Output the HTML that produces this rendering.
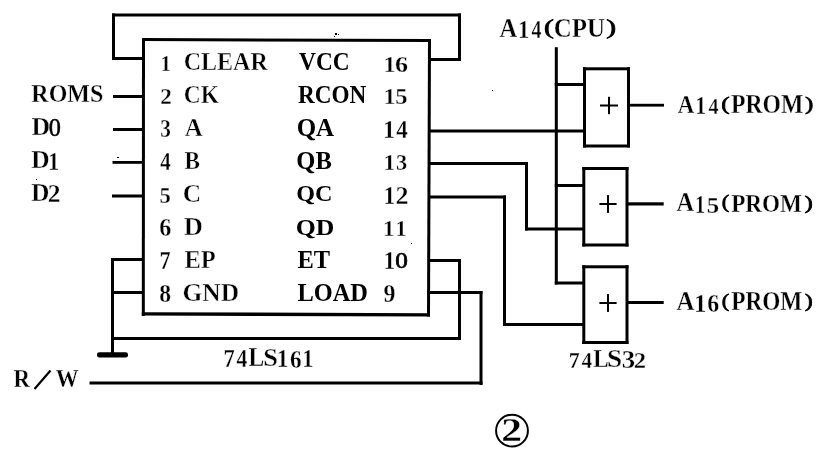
<!DOCTYPE html>
<html><head><meta charset="utf-8"><style>
html,body{margin:0;padding:0;background:#fff;}
svg{display:block;filter:grayscale(1);}
text{font-family:"Liberation Serif",serif;font-kerning:none;fill:#000;}
</style></head><body>
<svg width="828" height="455" viewBox="0 0 828 455">
<rect width="828" height="455" fill="#fff"/>
<g fill="#000">
<polygon points="142,38 431,39 431,42 142,41"/>
<polygon points="141.8,312.2 430,313.2 430,316.5 141.8,315.6"/>
<polygon points="142,38 145,38 144.8,316 141.8,316"/>
<polygon points="428,39 431,39 430,316.5 427,316.5"/>
<rect x="112" y="13.5" width="3.00" height="46.50"/>
<rect x="112" y="13.5" width="349.00" height="3.00"/>
<rect x="458" y="13.5" width="3.00" height="47.50"/>
<rect x="112" y="57" width="31.00" height="3.00"/>
<rect x="429" y="58" width="32.00" height="3.00"/>
<rect x="113" y="95" width="29.00" height="3.00"/>
<rect x="113" y="128" width="29.00" height="3.00"/>
<rect x="112.5" y="161" width="29.50" height="2.80"/>
<rect x="112" y="194.5" width="30.00" height="3.00"/>
<rect x="111" y="258" width="31.00" height="3.00"/>
<rect x="111" y="291" width="31.00" height="3.00"/>
<rect x="111" y="258" width="3.00" height="97.00"/>
<rect x="111" y="337" width="350.00" height="3.00"/>
<rect x="97" y="352.2" width="31" height="5.3" rx="2.3"/>
<rect x="429" y="259" width="32.00" height="3.00"/>
<rect x="458" y="259" width="3.00" height="81.00"/>
<rect x="429" y="291" width="53.50" height="3.00"/>
<rect x="479.5" y="291" width="3.00" height="94.00"/>
<rect x="89.5" y="381.5" width="393.00" height="3.00"/>
<rect x="429" y="129.5" width="155.00" height="3.00"/>
<rect x="429" y="162" width="99.00" height="3.00"/>
<rect x="525" y="162" width="3.00" height="68.50"/>
<rect x="525" y="227.5" width="59.00" height="3.00"/>
<rect x="429" y="195.5" width="77.00" height="3.00"/>
<rect x="503" y="195.5" width="3.00" height="130.50"/>
<rect x="503" y="323" width="81.00" height="3.00"/>
<rect x="554.8" y="47.2" width="3.00" height="237.30"/>
<rect x="554.8" y="83" width="29.20" height="3.00"/>
<rect x="554.8" y="184" width="29.20" height="3.00"/>
<rect x="554.8" y="281.5" width="29.20" height="3.00"/>
<rect x="583" y="67.3" width="47.00" height="3.00"/>
<rect x="583" y="144.5" width="47.00" height="3.00"/>
<rect x="583" y="67.3" width="3.00" height="80.20"/>
<rect x="627" y="67.3" width="3.00" height="80.20"/>
<rect x="582.3" y="167" width="46.20" height="3.00"/>
<rect x="582.3" y="243.5" width="46.20" height="3.00"/>
<rect x="582.3" y="167" width="3.00" height="79.50"/>
<rect x="625.5" y="167" width="3.00" height="79.50"/>
<rect x="582.3" y="265.3" width="46.20" height="3.00"/>
<rect x="582.3" y="341" width="46.20" height="3.00"/>
<rect x="582.3" y="265.3" width="3.00" height="78.70"/>
<rect x="625.5" y="265.3" width="3.00" height="78.70"/>
<rect x="629" y="103.8" width="35.00" height="2.80"/>
<rect x="628" y="202.3" width="35.70" height="3.20"/>
<rect x="628" y="301" width="35.70" height="3.00"/>
<rect x="600" y="104.5" width="18.00" height="2.00"/>
<rect x="608.0" y="96.8" width="2.00" height="17.40"/>
<rect x="599.4" y="203.0" width="17.20" height="2.00"/>
<rect x="607.0" y="195.1" width="2.00" height="17.80"/>
<rect x="599.4" y="302.0" width="17.20" height="2.00"/>
<rect x="607.0" y="294.1" width="2.00" height="17.80"/>
<rect x="492" y="90" width="1.00" height="1.00"/>
<rect x="117" y="157" width="2.00" height="1.00"/>
<rect x="36" y="179" width="1.00" height="1.00"/>
<rect x="411" y="243" width="1.00" height="1.00"/>
<rect x="335" y="33" width="2.00" height="2.00"/>
<rect x="338" y="34" width="1.00" height="1.00"/>
<rect x="334" y="36" width="1.00" height="1.00"/>
</g>
<g>
<text transform="translate(31.34 101.70) scale(0.9420 1)" font-size="25.45" font-weight="bold" stroke="#fff" stroke-width="0.3" stroke-linejoin="round">ROMS</text>
<text transform="translate(31.40 135.00) scale(1.0320 1)" font-size="24.97" font-weight="bold" stroke="#fff" stroke-width="0.3" stroke-linejoin="round">D</text>
<text transform="translate(48.77 135.76) scale(1.0061 1)" font-size="24.16" font-weight="normal" stroke="#000" stroke-width="0.5">0</text>
<text transform="translate(31.30 167.80) scale(1.0388 1)" font-size="24.52" font-weight="bold" stroke="#fff" stroke-width="0.3" stroke-linejoin="round">D</text>
<text transform="translate(48.04 169.95) scale(0.9075 1)" font-size="24.84" font-weight="bold" stroke="#fff" stroke-width="0.3" stroke-linejoin="round">1</text>
<text transform="translate(31.31 200.80) scale(0.9663 1)" font-size="26.04" font-weight="bold" stroke="#fff" stroke-width="0.3" stroke-linejoin="round">D</text>
<text transform="translate(47.78 201.85) scale(1.0374 1)" font-size="24.62" font-weight="bold" stroke="#fff" stroke-width="0.3" stroke-linejoin="round">2</text>
<text transform="translate(13.46 387.05) scale(0.8795 1)" font-size="25.96" font-weight="bold" stroke="#fff" stroke-width="0.3" stroke-linejoin="round">R</text>
<text transform="translate(55.63 386.68) scale(0.9404 1)" font-size="24.33" font-weight="bold" stroke="#fff" stroke-width="0.3" stroke-linejoin="round">W</text>
<text transform="translate(160.58 70.55) scale(0.9024 1)" font-size="23.18" font-weight="bold" stroke="#fff" stroke-width="0.3" stroke-linejoin="round">1</text>
<text transform="translate(160.28 103.75) scale(0.9945 1)" font-size="23.26" font-weight="bold" stroke="#fff" stroke-width="0.3" stroke-linejoin="round">2</text>
<text transform="translate(160.15 136.91) scale(0.8706 1)" font-size="24.41" font-weight="bold" stroke="#fff" stroke-width="0.3" stroke-linejoin="round">3</text>
<text transform="translate(160.36 170.05) scale(0.8565 1)" font-size="24.46" font-weight="bold" stroke="#fff" stroke-width="0.3" stroke-linejoin="round">4</text>
<text transform="translate(159.44 202.72) scale(0.9660 1)" font-size="23.47" font-weight="bold" stroke="#fff" stroke-width="0.3" stroke-linejoin="round">5</text>
<text transform="translate(159.13 235.61) scale(0.9915 1)" font-size="24.26" font-weight="bold" stroke="#fff" stroke-width="0.3" stroke-linejoin="round">6</text>
<text transform="translate(159.38 268.95) scale(0.8983 1)" font-size="24.74" font-weight="bold" stroke="#fff" stroke-width="0.3" stroke-linejoin="round">7</text>
<text transform="translate(159.16 301.80) scale(0.9429 1)" font-size="25.19" font-weight="bold" stroke="#fff" stroke-width="0.3" stroke-linejoin="round">8</text>
<text transform="translate(183.73 70.35) scale(0.9491 1)" font-size="25.30" font-weight="bold" stroke="#fff" stroke-width="0.4" stroke-linejoin="round">CLEAR</text>
<text transform="translate(183.76 102.85) scale(0.9255 1)" font-size="25.30" font-weight="bold" stroke="#fff" stroke-width="0.4" stroke-linejoin="round">CK</text>
<text transform="translate(184.66 136.10) scale(0.9526 1)" font-size="26.05" font-weight="bold" stroke="#fff" stroke-width="0.4" stroke-linejoin="round">A</text>
<text transform="translate(184.52 168.82) scale(0.8949 1)" font-size="25.85" font-weight="bold" stroke="#fff" stroke-width="0.4" stroke-linejoin="round">B</text>
<text transform="translate(182.86 202.15) scale(0.9828 1)" font-size="25.90" font-weight="bold" stroke="#fff" stroke-width="0.4" stroke-linejoin="round">C</text>
<text transform="translate(183.63 234.85) scale(1.0251 1)" font-size="25.89" font-weight="bold" stroke="#fff" stroke-width="0.4" stroke-linejoin="round">D</text>
<text transform="translate(184.48 267.70) scale(0.9608 1)" font-size="25.50" font-weight="bold" stroke="#fff" stroke-width="0.4" stroke-linejoin="round">EP</text>
<text transform="translate(182.56 300.75) scale(0.9833 1)" font-size="25.90" font-weight="bold" stroke="#fff" stroke-width="0.4" stroke-linejoin="round">GND</text>
<text transform="translate(299.04 69.71) scale(0.8995 1)" font-size="25.99" font-weight="bold">VCC</text>
<text transform="translate(298.10 102.66) scale(0.9504 1)" font-size="24.41" font-weight="bold">RCON</text>
<text transform="translate(296.68 136.20) scale(0.9709 1)" font-size="25.75" font-weight="bold">QA</text>
<text transform="translate(296.30 168.93) scale(1.0033 1)" font-size="24.48" font-weight="bold">QB</text>
<text transform="translate(296.32 200.77) scale(1.0203 1)" font-size="23.67" font-weight="bold">QC</text>
<text transform="translate(295.84 234.95) scale(1.0768 1)" font-size="23.91" font-weight="bold">QD</text>
<text transform="translate(297.48 267.90) scale(0.9521 1)" font-size="25.66" font-weight="bold">ET</text>
<text transform="translate(297.48 300.85) scale(0.9423 1)" font-size="25.90" font-weight="bold">LOAD</text>
<text transform="translate(383.61 71.85) scale(1.0165 1)" font-size="23.78" font-weight="bold" stroke="#fff" stroke-width="0.3" stroke-linejoin="round">1</text>
<text transform="translate(395.06 71.62) scale(1.1176 1)" font-size="23.37" font-weight="bold" stroke="#fff" stroke-width="0.3" stroke-linejoin="round">6</text>
<text transform="translate(383.61 104.35) scale(1.0639 1)" font-size="22.72" font-weight="bold" stroke="#fff" stroke-width="0.3" stroke-linejoin="round">1</text>
<text transform="translate(395.37 104.13) scale(1.0884 1)" font-size="22.57" font-weight="bold" stroke="#fff" stroke-width="0.3" stroke-linejoin="round">5</text>
<text transform="translate(383.01 137.85) scale(0.9912 1)" font-size="24.39" font-weight="bold" stroke="#fff" stroke-width="0.3" stroke-linejoin="round">1</text>
<text transform="translate(396.23 137.85) scale(0.9439 1)" font-size="24.46" font-weight="bold" stroke="#fff" stroke-width="0.3" stroke-linejoin="round">4</text>
<text transform="translate(383.38 170.35) scale(1.0280 1)" font-size="22.72" font-weight="bold" stroke="#fff" stroke-width="0.3" stroke-linejoin="round">1</text>
<text transform="translate(396.01 170.13) scale(1.0042 1)" font-size="22.33" font-weight="bold" stroke="#fff" stroke-width="0.3" stroke-linejoin="round">3</text>
<text transform="translate(383.38 203.85) scale(0.9461 1)" font-size="24.69" font-weight="bold" stroke="#fff" stroke-width="0.3" stroke-linejoin="round">1</text>
<text transform="translate(395.46 203.85) scale(1.0570 1)" font-size="24.62" font-weight="bold" stroke="#fff" stroke-width="0.3" stroke-linejoin="round">2</text>
<text transform="translate(383.10 236.35) scale(1.0161 1)" font-size="22.72" font-weight="bold" stroke="#fff" stroke-width="0.3" stroke-linejoin="round">1</text>
<text transform="translate(395.47 236.35) scale(0.9802 1)" font-size="22.72" font-weight="bold" stroke="#fff" stroke-width="0.3" stroke-linejoin="round">1</text>
<text transform="translate(383.38 269.05) scale(0.9638 1)" font-size="24.24" font-weight="bold" stroke="#fff" stroke-width="0.3" stroke-linejoin="round">1</text>
<text transform="translate(395.19 268.33) scale(1.1357 1)" font-size="22.23" font-weight="normal" stroke="#000" stroke-width="0.7" stroke-linejoin="round">0</text>
<text transform="translate(383.40 302.01) scale(0.9820 1)" font-size="24.26" font-weight="bold" stroke="#fff" stroke-width="0.3" stroke-linejoin="round">9</text>
<text transform="translate(223.47 367.15) scale(0.9024 1)" font-size="24.89" font-weight="bold" stroke="#fff" stroke-width="0.3" stroke-linejoin="round">7</text>
<text transform="translate(236.55 366.95) scale(0.8882 1)" font-size="24.31" font-weight="bold" stroke="#fff" stroke-width="0.3" stroke-linejoin="round">4</text>
<text transform="translate(248.55 366.05) scale(0.8903 1)" font-size="26.42" font-weight="bold" stroke="#fff" stroke-width="0.3" stroke-linejoin="round">L</text>
<text transform="translate(263.35 365.80) scale(1.0206 1)" font-size="25.75" font-weight="bold" stroke="#fff" stroke-width="0.3" stroke-linejoin="round">S</text>
<text transform="translate(276.78 367.15) scale(0.9403 1)" font-size="24.84" font-weight="bold" stroke="#fff" stroke-width="0.3" stroke-linejoin="round">1</text>
<text transform="translate(290.06 367.80) scale(0.8986 1)" font-size="25.75" font-weight="bold" stroke="#fff" stroke-width="0.3" stroke-linejoin="round">6</text>
<text transform="translate(302.14 367.15) scale(0.9075 1)" font-size="24.84" font-weight="bold" stroke="#fff" stroke-width="0.3" stroke-linejoin="round">1</text>
<text transform="translate(568.69 367.95) scale(0.9111 1)" font-size="24.13" font-weight="bold" stroke="#fff" stroke-width="0.3" stroke-linejoin="round">7</text>
<text transform="translate(581.56 367.95) scale(0.8817 1)" font-size="24.00" font-weight="bold" stroke="#fff" stroke-width="0.3" stroke-linejoin="round">4</text>
<text transform="translate(593.36 366.95) scale(0.8870 1)" font-size="25.96" font-weight="bold" stroke="#fff" stroke-width="0.3" stroke-linejoin="round">L</text>
<text transform="translate(607.01 366.70) scale(1.0729 1)" font-size="25.30" font-weight="bold" stroke="#fff" stroke-width="0.3" stroke-linejoin="round">S</text>
<text transform="translate(621.64 368.41) scale(1.0935 1)" font-size="24.56" font-weight="bold" stroke="#fff" stroke-width="0.3" stroke-linejoin="round">3</text>
<text transform="translate(633.82 367.95) scale(1.0299 1)" font-size="23.86" font-weight="bold" stroke="#fff" stroke-width="0.3" stroke-linejoin="round">2</text>
<text transform="translate(499.61 36.95) scale(0.8999 1)" font-size="27.27" font-weight="bold" stroke="#fff" stroke-width="0.3" stroke-linejoin="round">A</text>
<text transform="translate(517.94 38.05) scale(0.8603 1)" font-size="26.21" font-weight="bold" stroke="#fff" stroke-width="0.3" stroke-linejoin="round">1</text>
<text transform="translate(531.48 38.05) scale(0.8078 1)" font-size="24.61" font-weight="bold" stroke="#fff" stroke-width="0.3" stroke-linejoin="round">4</text>
<text transform="translate(543.95 34.00) scale(1.4824 1)" font-size="19.96" font-weight="normal" stroke="#000" stroke-width="0.7" stroke-linejoin="round">(</text>
<text transform="translate(553.74 36.89) scale(0.9236 1)" font-size="26.94" font-weight="bold" stroke="#fff" stroke-width="0.3" stroke-linejoin="round">CPU</text>
<text transform="translate(606.20 34.25) scale(1.4662 1)" font-size="20.18" font-weight="normal" stroke="#000" stroke-width="0.7" stroke-linejoin="round">)</text>
<text transform="translate(677.63 112.95) scale(0.8764 1)" font-size="26.05" font-weight="bold" stroke="#fff" stroke-width="0.3" stroke-linejoin="round">A</text>
<text transform="translate(695.21 113.85) scale(0.8966 1)" font-size="24.24" font-weight="bold" stroke="#fff" stroke-width="0.3" stroke-linejoin="round">1</text>
<text transform="translate(708.58 113.65) scale(0.8371 1)" font-size="24.00" font-weight="bold" stroke="#fff" stroke-width="0.3" stroke-linejoin="round">4</text>
<text transform="translate(721.14 110.49) scale(1.3265 1)" font-size="19.08" font-weight="normal" stroke="#000" stroke-width="0.7" stroke-linejoin="round">(</text>
<text transform="translate(730.95 112.69) scale(0.8736 1)" font-size="27.09" font-weight="bold" stroke="#fff" stroke-width="0.3" stroke-linejoin="round">PROM</text>
<text transform="translate(804.95 110.46) scale(1.3291 1)" font-size="18.75" font-weight="normal" stroke="#000" stroke-width="0.7" stroke-linejoin="round">)</text>
<text transform="translate(676.51 211.35) scale(0.9202 1)" font-size="26.51" font-weight="bold" stroke="#fff" stroke-width="0.3" stroke-linejoin="round">A</text>
<text transform="translate(695.12 212.75) scale(0.8005 1)" font-size="25.45" font-weight="bold" stroke="#fff" stroke-width="0.3" stroke-linejoin="round">1</text>
<text transform="translate(706.76 212.52) scale(1.0366 1)" font-size="23.93" font-weight="bold" stroke="#fff" stroke-width="0.3" stroke-linejoin="round">5</text>
<text transform="translate(721.66 208.26) scale(1.2045 1)" font-size="18.75" font-weight="normal" stroke="#000" stroke-width="0.7" stroke-linejoin="round">(</text>
<text transform="translate(731.15 211.60) scale(0.8997 1)" font-size="25.75" font-weight="bold" stroke="#fff" stroke-width="0.3" stroke-linejoin="round">PROM</text>
<text transform="translate(804.45 209.31) scale(1.3136 1)" font-size="18.97" font-weight="normal" stroke="#000" stroke-width="0.7" stroke-linejoin="round">)</text>
<text transform="translate(676.51 309.95) scale(0.9363 1)" font-size="26.51" font-weight="bold" stroke="#fff" stroke-width="0.3" stroke-linejoin="round">A</text>
<text transform="translate(693.95 311.85) scale(0.9591 1)" font-size="26.05" font-weight="bold" stroke="#fff" stroke-width="0.3" stroke-linejoin="round">1</text>
<text transform="translate(707.24 311.60) scale(0.9416 1)" font-size="25.30" font-weight="bold" stroke="#fff" stroke-width="0.3" stroke-linejoin="round">6</text>
<text transform="translate(721.66 307.36) scale(1.2045 1)" font-size="18.75" font-weight="normal" stroke="#000" stroke-width="0.7" stroke-linejoin="round">(</text>
<text transform="translate(731.15 309.99) scale(0.8613 1)" font-size="27.09" font-weight="bold" stroke="#fff" stroke-width="0.3" stroke-linejoin="round">PROM</text>
<text transform="translate(804.78 307.20) scale(1.3131 1)" font-size="18.09" font-weight="normal" stroke="#000" stroke-width="0.7" stroke-linejoin="round">)</text>
<text transform="translate(501.31 441.45) scale(1.2645 1)" font-size="32.77" font-weight="bold" stroke="#fff" stroke-width="0.3" stroke-linejoin="round">2</text>
</g>

<line x1="34.5" y1="389" x2="50.5" y2="370.5" stroke="#000" stroke-width="2.2"/>
<circle cx="512" cy="430.65" r="15.9" fill="none" stroke="#000" stroke-width="2"/>

</svg>
</body></html>
